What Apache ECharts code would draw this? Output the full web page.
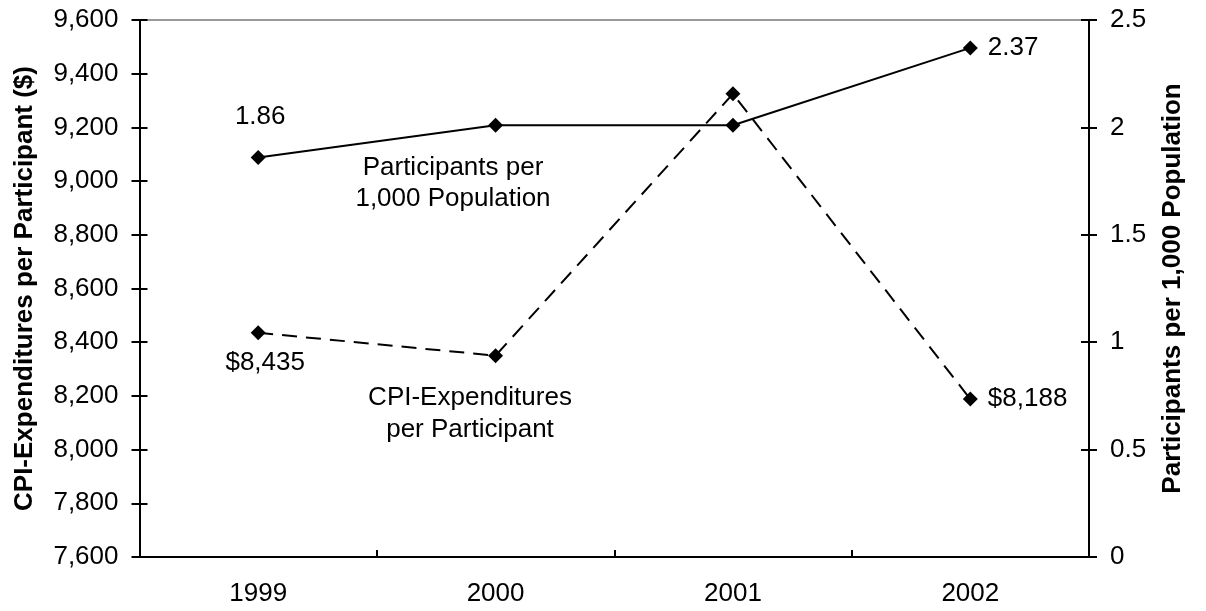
<!DOCTYPE html>
<html><head><meta charset="utf-8">
<script src="https://cdn.jsdelivr.net/npm/echarts@6/dist/echarts.min.js"></script>
<style>html,body{margin:0;padding:0;background:#fff}#c{width:1206px;height:611px}</style>
</head><body><div id="c"></div>
<script>
const years = ['1999', '2000', '2001', '2002'];
const cpiExpenditures = [8435, 8350, 9325, 8188];
const participantsPer1000 = [1.86, 2.01, 2.01, 2.37];
const leftTicks = [7600, 9600, 200];
const rightTicks = [0, 2.5, 0.5];

const FONT = '"Liberation Sans", Arial, sans-serif';
const FS = 26;
const chart = echarts.init(document.getElementById('c'));
const grid = {left: 139.5, right: 117, top: 20, bottom: 54};
const fmt = v => v.toLocaleString('en-US');
function yAx(pos, t, inside, show, name) {
  return {
    type: 'value', position: pos, min: t[0], max: t[1], interval: t[2],
    name: name || '', nameLocation: 'middle', nameGap: pos === 'left' ? 102 : 71,
    nameTextStyle: {fontFamily: FONT, fontSize: FS, fontWeight: 'bold', color: '#000'},
    axisLine: {show: true, lineStyle: {color: '#000', width: 2}},
    axisTick: {show: true, inside: inside, length: 8, lineStyle: {color: '#000', width: 2}},
    axisLabel: {show: show, fontFamily: FONT, fontSize: FS, color: '#000', margin: 21,
      formatter: pos === 'left' ? fmt : (v => String(v))},
    splitLine: {show: false}
  };
}
const option = {
  animation: false,
  grid: grid,
  xAxis: {
    type: 'category', data: years, boundaryGap: true,
    axisLine: {lineStyle: {color: '#000', width: 2}},
    axisTick: {show: true, inside: true, length: 7, lineStyle: {color: '#000', width: 2}},
    axisLabel: {fontFamily: FONT, fontSize: FS, color: '#000', margin: 24}
  },
  yAxis: [
    yAx('left', leftTicks, false, true, 'CPI-Expenditures per Participant ($)'),
    yAx('right', rightTicks, false, true, 'Participants per 1,000 Population'),
    yAx('left', leftTicks, true, false),
    yAx('right', rightTicks, true, false)
  ],
  graphic: [
    {type: 'line', shape: {x1: 139.5, y1: 20, x2: 1089, y2: 20}, style: {stroke: '#999', lineWidth: 2}},
    {type: 'text', x: 453, y: 183, style: {text: 'Participants per\n1,000 Population', fontFamily: FONT, fontSize: FS, lineHeight: 31, fill: '#000', align: 'center', verticalAlign: 'middle'}},
    {type: 'text', x: 470, y: 414, style: {text: 'CPI-Expenditures\nper Participant', fontFamily: FONT, fontSize: FS, lineHeight: 32, fill: '#000', align: 'center', verticalAlign: 'middle'}}
  ],
  series: [
    {
      type: 'line', yAxisIndex: 0, data: cpiExpenditures.map((v, i) => {
        const d = {value: v};
        if (i === 0) d.label = {show: true, position: 'bottom', distance: 10, offset: [7, 0]};
        if (i === 3) d.label = {show: true, position: 'right', distance: 10};
        return d;
      }),
      symbol: 'diamond', symbolSize: 15, itemStyle: {color: '#000'},
      lineStyle: {color: '#000', width: 2, type: [15, 9]},
      label: {show: false, fontFamily: FONT, fontSize: FS, color: '#000', formatter: p => '$' + fmt(p.value)}
    },
    {
      type: 'line', yAxisIndex: 1, data: participantsPer1000.map((v, i) => {
        const d = {value: v};
        if (i === 0) d.label = {show: true, position: 'top', distance: 20, offset: [2, 0]};
        if (i === 3) d.label = {show: true, position: 'right', distance: 10};
        return d;
      }),
      symbol: 'diamond', symbolSize: 15, itemStyle: {color: '#000'},
      lineStyle: {color: '#000', width: 2},
      label: {show: false, fontFamily: FONT, fontSize: FS, color: '#000', formatter: p => p.value.toFixed(2)}
    }
  ]
};
chart.setOption(option);
</script></body></html>
